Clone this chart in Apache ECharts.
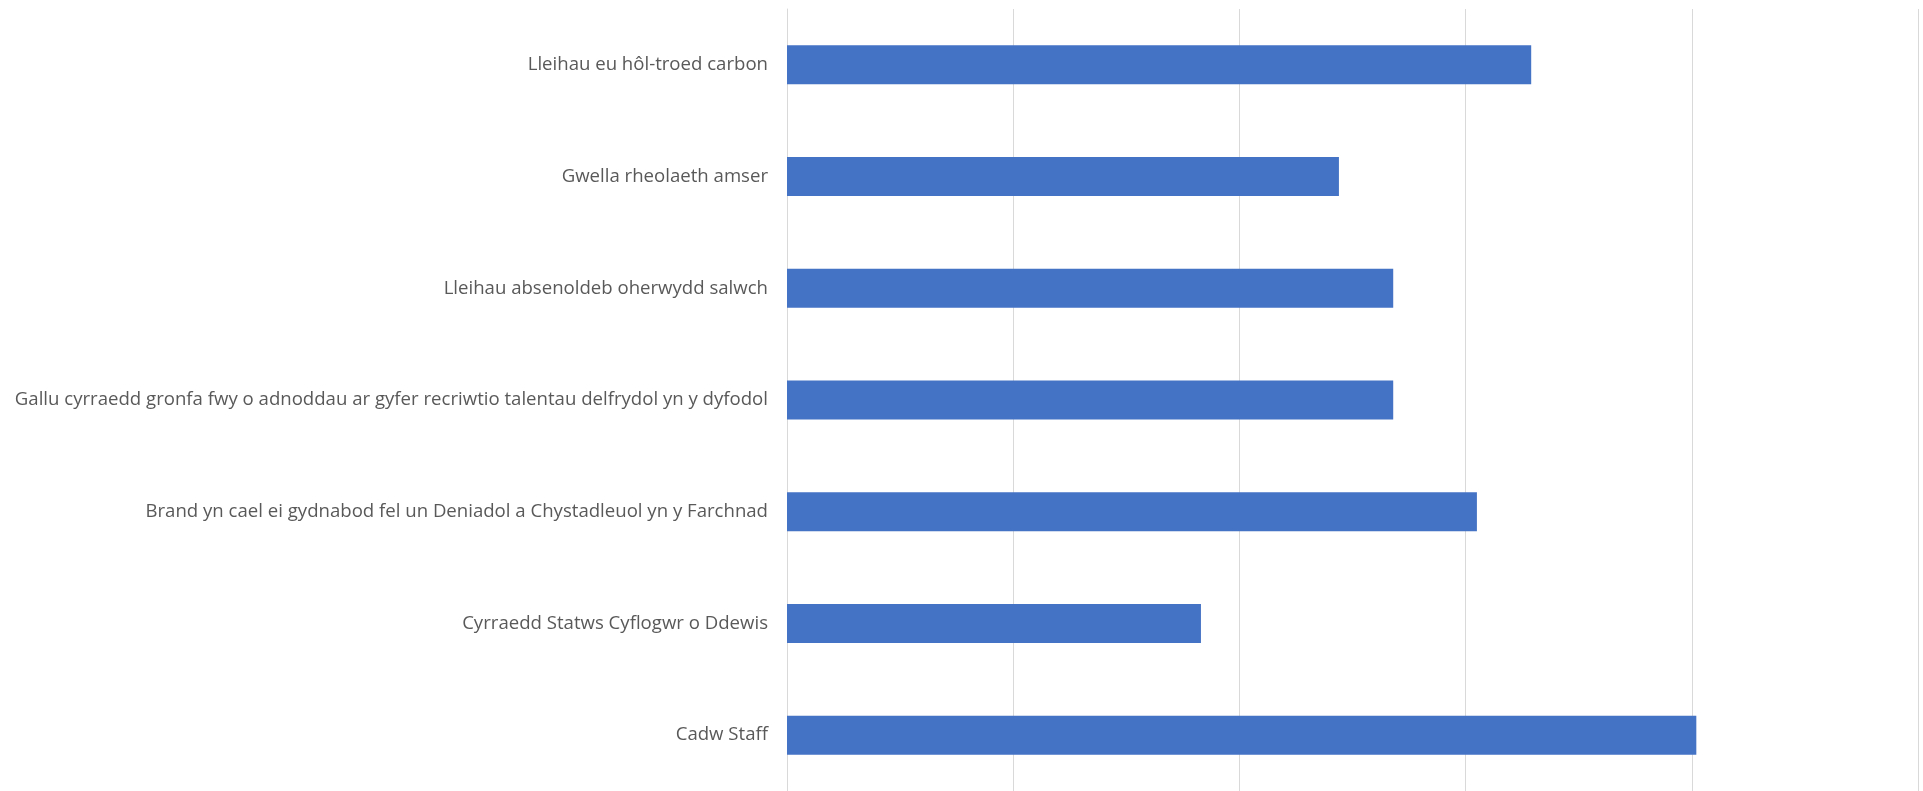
<!DOCTYPE html>
<html>
<head>
<meta charset="utf-8">
<script src="https://cdn.jsdelivr.net/npm/echarts@6/dist/echarts.min.js"></script>
<style>
html,body{margin:0;padding:0;background:#fff;}
#chart{width:1923px;height:791px;}
</style>
</head>
<body>
<div id="chart"></div>
<script>
const categories = [
  "Lleihau eu hôl-troed carbon",
  "Gwella rheolaeth amser",
  "Lleihau absenoldeb oherwydd salwch",
  "Gallu cyrraedd gronfa fwy o adnoddau ar gyfer recriwtio talentau delfrydol yn y dyfodol",
  "Brand yn cael ei gydnabod fel un Deniadol a Chystadleuol yn y Farchnad",
  "Cyrraedd Statws Cyflogwr o Ddewis",
  "Cadw Staff"
];
const values = [32.9, 24.4, 26.8, 26.8, 30.5, 18.3, 40.2];
const axisMin = 0;
const axisMax = 50;
const axisInterval = 10;

const chart = echarts.init(document.getElementById('chart'), null, {renderer: 'canvas'});
chart.setOption({
  animation: false,
  backgroundColor: '#ffffff',
  grid: {left: 787, right: 5, top: 9, bottom: -3, containLabel: false},
  xAxis: {
    type: 'value',
    min: axisMin, max: axisMax, interval: axisInterval,
    axisLine: {show: false},
    axisTick: {show: false},
    axisLabel: {show: false},
    splitLine: {show: true, lineStyle: {color: '#d9d9d9', width: 1}}
  },
  yAxis: {
    type: 'category',
    data: categories,
    inverse: true,
    axisLine: {show: true, lineStyle: {color: '#d9d9d9', width: 1}},
    axisTick: {show: false},
    axisLabel: {
      color: '#595959',
      fontFamily: 'Open Sans',
      fontSize: 18.6,
      margin: 19
    }
  },
  series: [{
    type: 'bar',
    data: values,
    barWidth: 39,
    itemStyle: {color: '#4472C4'}
  }]
});
</script>
</body>
</html>
